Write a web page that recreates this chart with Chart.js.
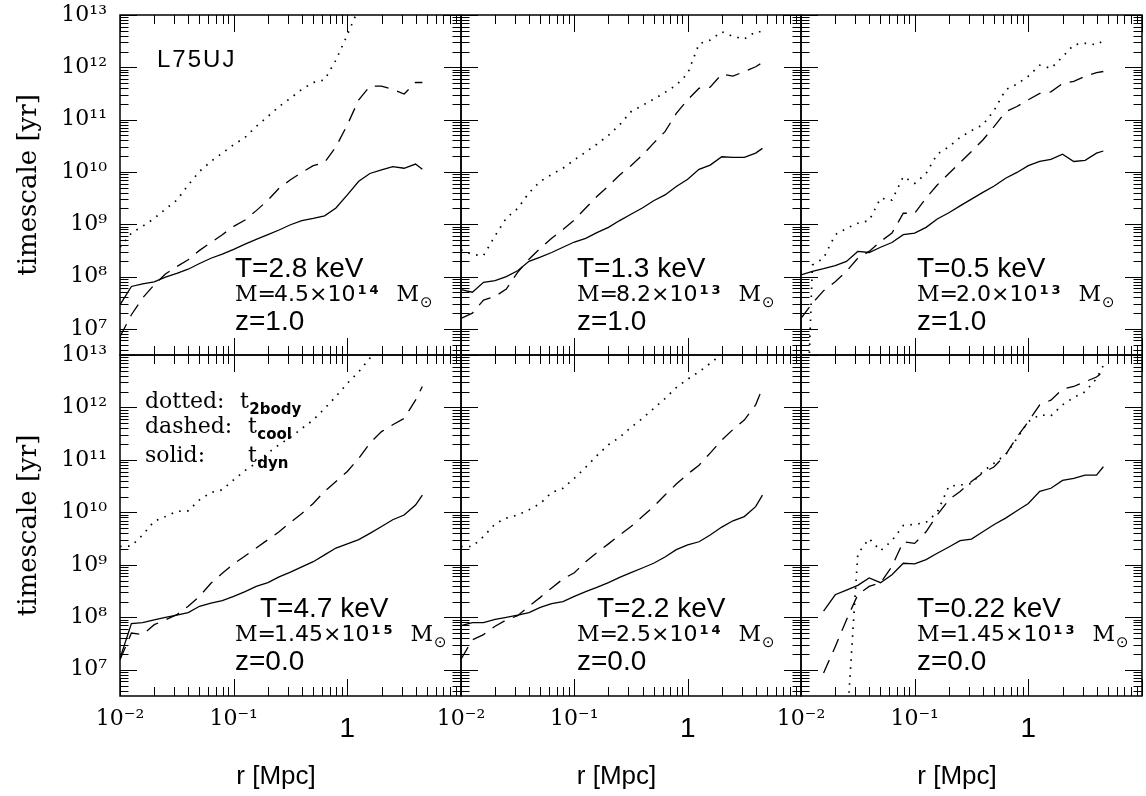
<!DOCTYPE html>
<html>
<head>
<meta charset="utf-8">
<script src="https://cdn.jsdelivr.net/npm/chart.js@4.4.1/dist/chart.umd.min.js"></script>
<style>
  html, body { margin: 0; padding: 0; background: #fff; }
  #wrap { position: relative; width: 1146px; height: 796px; }
  #wrap canvas { position: absolute; left: 0; top: 0; }
</style>
</head>
<body>
<div id="wrap"></div>
<script>
'use strict';

// radial bins, Mpc
const rMpc = [0.0100, 0.0126, 0.0158, 0.0200, 0.0251, 0.0316, 0.0398, 0.0501, 0.0631, 0.0794,
  0.100, 0.126, 0.158, 0.200, 0.251, 0.316, 0.398, 0.501, 0.631, 0.794,
  1.00, 1.26, 1.58, 2.00, 2.51, 3.16, 3.98, 4.57];

// log10(timescale / yr)
// dyn = solid, cool = dashed, body = dotted (two-body)
const dyn1 = [7.46, 7.81, 7.86, 7.90, 7.99, 8.06, 8.14, 8.25, 8.35, 8.43, 8.52, 8.62, 8.71, 8.80, 8.89, 8.99, 9.07, 9.11, 9.16, 9.31, 9.56, 9.82, 9.97, 10.04, 10.10, 10.07, 10.15, 10.05];
const cool1 = [6.85, 7.27, 7.59, 7.84, 8.05, 8.19, 8.32, 8.50, 8.65, 8.80, 8.96, 9.08, 9.26, 9.46, 9.69, 9.85, 9.99, 10.12, 10.18, 10.48, 10.90, 11.38, 11.64, 11.64, 11.58, 11.49, 11.71, 11.71];
const body1 = [8.56, 8.83, 8.96, 9.11, 9.29, 9.46, 9.75, 10.01, 10.20, 10.36, 10.52, 10.66, 10.87, 11.06, 11.25, 11.41, 11.58, 11.71, 11.76, 12.14, 12.62, 13.13, null, null, null, null, null, null];

const dyn2 = [7.75, 7.70, 7.89, 7.92, 8.00, 8.11, 8.29, 8.37, 8.46, 8.56, 8.66, 8.73, 8.84, 8.94, 9.07, 9.19, 9.31, 9.45, 9.56, 9.72, 9.86, 10.05, 10.13, 10.29, 10.28, 10.28, 10.36, 10.45];
const cool2 = [7.20, 7.30, 7.55, 7.62, 7.76, 8.08, 8.33, 8.54, 8.73, 8.90, 9.08, 9.31, 9.53, 9.73, 9.94, 10.12, 10.32, 10.55, 10.77, 11.12, 11.38, 11.60, 11.62, 11.87, 11.83, 11.92, 12.01, 12.09];
const body2 = [8.51, 8.42, 8.40, 8.78, 9.12, 9.30, 9.60, 9.82, 9.95, 10.07, 10.23, 10.38, 10.53, 10.70, 10.90, 11.15, 11.27, 11.39, 11.52, 11.66, 11.88, 12.45, 12.52, 12.68, 12.59, 12.54, 12.68, 12.68];

const dyn3 = [8.03, 8.10, 8.15, 8.21, 8.29, 8.48, 8.46, 8.56, 8.65, 8.80, 8.83, 8.94, 9.10, 9.22, 9.35, 9.48, 9.61, 9.73, 9.88, 9.99, 10.12, 10.20, 10.24, 10.34, 10.20, 10.22, 10.36, 10.40];
const cool3 = [7.20, 7.49, 7.73, 7.90, 8.10, 8.35, 8.48, 8.67, 8.83, 9.21, 9.21, 9.50, 9.75, 9.97, 10.18, 10.39, 10.61, 10.87, 11.15, 11.25, 11.38, 11.50, 11.53, 11.69, 11.73, 11.83, 11.90, 11.92];
const body3 = [1.8, 8.22, 8.35, 8.80, 8.92, 9.02, 9.07, 9.50, 9.46, 9.91, 9.78, 9.97, 10.34, 10.48, 10.66, 10.79, 10.90, 11.18, 11.57, 11.68, 11.83, 12.04, 11.98, 12.20, 12.43, 12.46, 12.43, 12.51];

const dyn4 = [7.22, 7.88, 7.90, 7.95, 8.00, 8.04, 8.09, 8.21, 8.27, 8.32, 8.40, 8.49, 8.59, 8.66, 8.77, 8.86, 8.96, 9.06, 9.19, 9.32, 9.40, 9.48, 9.60, 9.73, 9.86, 9.95, 10.14, 10.33];
const cool4 = [7.19, 7.70, 7.67, 7.86, 7.95, 8.05, 8.21, 8.40, 8.65, 8.84, 9.02, 9.17, 9.32, 9.48, 9.63, 9.81, 9.98, 10.17, 10.40, 10.59, 10.78, 11.03, 11.32, 11.54, 11.67, 11.79, 12.14, 12.40];
const body4 = [9.35, 9.36, 9.57, 9.83, 9.92, 10.02, 10.03, 10.24, 10.38, 10.43, 10.62, 10.80, 10.94, 11.13, 11.29, 11.43, 11.60, 11.76, 11.98, 12.21, 12.46, 12.68, 12.94, 13.19, null, null, null, null];

const dyn5 = [7.84, 7.90, 7.90, 7.96, 8.00, 8.04, 8.09, 8.19, 8.26, 8.30, 8.40, 8.49, 8.57, 8.66, 8.76, 8.85, 8.94, 9.03, 9.15, 9.29, 9.38, 9.44, 9.57, 9.72, 9.84, 9.92, 10.11, 10.33];
const cool5 = [7.20, 7.57, 7.67, 7.83, 7.95, 8.03, 8.21, 8.38, 8.56, 8.73, 8.85, 9.06, 9.23, 9.40, 9.57, 9.73, 9.92, 10.11, 10.33, 10.54, 10.73, 10.90, 11.13, 11.38, 11.58, 11.76, 12.05, 12.37];
const body5 = [9.35, 9.35, 9.54, 9.78, 9.89, 9.95, 10.05, 10.17, 10.38, 10.46, 10.65, 10.86, 11.08, 11.29, 11.43, 11.62, 11.79, 11.98, 12.17, 12.38, 12.54, 12.68, 12.84, 13.02, 13.20, null, null, null];

const dyn6 = [null, null, 8.12, 8.43, 8.52, 8.61, 8.75, 8.66, 8.81, 9.03, 9.02, 9.10, 9.22, 9.34, 9.46, 9.49, 9.63, 9.77, 9.89, 10.03, 10.17, 10.40, 10.46, 10.61, 10.65, 10.71, 10.71, 10.87];
const cool6 = [null, null, 6.94, 7.44, 7.95, 8.43, 8.59, 8.66, 8.97, 9.44, 9.41, 9.63, 9.95, 10.24, 10.40, 10.59, 10.75, 10.87, 11.10, 11.44, 11.73, 12.05, 12.14, 12.35, 12.40, 12.49, 12.58, 12.68];
const body6 = [null, null, null, null, 5.80, 9.21, 9.50, 9.27, 9.46, 9.75, 9.77, 9.81, 10.00, 10.50, 10.52, 10.55, 10.78, 10.94, 11.10, 11.41, 11.73, 11.86, 11.84, 12.05, 12.19, 12.30, 12.55, 12.80];

// panel labels
const temps = ['T=2.8 keV', 'T=1.3 keV', 'T=0.5 keV', 'T=4.7 keV', 'T=2.2 keV', 'T=0.22 keV'];
const massMant = ['4.5', '8.2', '2.0', '1.45', '2.5', '1.45'];
const massExp = ['14', '13', '13', '15', '14', '13'];
const redshifts = ['z=1.0', 'z=1.0', 'z=1.0', 'z=0.0', 'z=0.0', 'z=0.0'];
const legendNames = ['dotted:', 'dashed:', 'solid:'];
const legendSubs = ['2body', 'cool', 'dyn'];

// tick labels
const yTicks = [1e7, 1e8, 1e9, 1e10, 1e11, 1e12, 1e13];
const xTicks = [0.01, 0.1, 1];

const dynSets = [dyn1, dyn2, dyn3, dyn4, dyn5, dyn6];
const coolSets = [cool1, cool2, cool3, cool4, cool5, cool6];
const bodySets = [body1, body2, body3, body4, body5, body6];

// page geometry
const PAGE_W = 1146, PAGE_H = 796;
const colLeft = [120, 461, 801];
const colRight = [461, 801, 1142];
const rowTop = [15, 355];
const rowBottom = [355, 696];
const tDx = [115, 116, 116, 140, 136, 116];
const mDx = [115, 116, 116, 115, 116, 116];

const SERIF = '"DejaVu Serif", serif';
const SANS = '"Liberation Sans", Arial, sans-serif';
const DSANS = '"DejaVu Sans", sans-serif';

const SUP = {'-': '\u207B', '0': '\u2070', '1': '\u00B9', '2': '\u00B2', '3': '\u00B3',
  '4': '\u2074', '5': '\u2075', '6': '\u2076', '7': '\u2077', '8': '\u2078', '9': '\u2079'};

function powLabel(v) {
  const e = Math.round(Math.log10(v));
  if (e === 0) return '1';
  return '10' + String(e).split('').map(c => SUP[c]).join('');
}

function drawRuns(ctx, x, y, parts) {
  for (const p of parts) {
    ctx.font = p.font;
    ctx.letterSpacing = p.ls || '0px';
    x += p.dx || 0;
    ctx.fillText(p.t, x, y + (p.dy || 0));
    x += ctx.measureText(p.t).width;
  }
  ctx.letterSpacing = '0px';
}

// frame with inward major/minor ticks on all four sides
const frameTicks = {
  id: 'frameTicks',
  afterDatasetsDraw(chart) {
    const {ctx, chartArea: a} = chart;
    const xs = chart.scales.x, ys = chart.scales.y;
    ctx.save();
    ctx.strokeStyle = '#000';
    ctx.lineWidth = 1;
    ctx.beginPath();
    for (let e = -2; e <= 1; e++) {
      for (let k = 1; k <= 9; k++) {
        const v = k * Math.pow(10, e);
        if (v < xs.min * 0.999 || v > xs.max * 1.001) continue;
        const px = Math.round(xs.getPixelForValue(v)) + 0.5;
        const len = k === 1 ? 17 : 9;
        ctx.moveTo(px, a.bottom); ctx.lineTo(px, a.bottom - len);
        ctx.moveTo(px, a.top); ctx.lineTo(px, a.top + len);
      }
    }
    for (let e = 6; e <= 13; e++) {
      for (let k = 1; k <= 9; k++) {
        const v = k * Math.pow(10, e);
        if (v < ys.min * 0.999 || v > ys.max * 1.001) continue;
        const py = Math.round(ys.getPixelForValue(v)) + 0.5;
        const len = k === 1 ? 17 : 8.5;
        ctx.moveTo(a.left, py); ctx.lineTo(a.left + len, py);
        ctx.moveTo(a.right, py); ctx.lineTo(a.right - len, py);
      }
    }
    ctx.stroke();
    ctx.lineWidth = 1.5;
    ctx.strokeRect(a.left, a.top, a.right - a.left, a.bottom - a.top);
    ctx.restore();
  }
};

// cluster labels inside each panel
const panelText = {
  id: 'panelText',
  afterDraw(chart, args, opts) {
    const i = opts.idx;
    const {ctx, chartArea: a} = chart;
    ctx.save();
    ctx.fillStyle = '#000';
    ctx.textAlign = 'left';
    ctx.textBaseline = 'alphabetic';

    ctx.font = '28px ' + SANS;
    ctx.fillText(temps[i], a.left + tDx[i], a.top + 262);
    ctx.fillText(redshifts[i], a.left + mDx[i], a.top + 315);

    drawRuns(ctx, a.left + mDx[i], a.top + 285.5, [
      {t: 'M', font: '22px ' + SERIF},
      {t: '=', font: '22px ' + SERIF, dx: 0},
      {t: massMant[i], font: '22px ' + DSANS, dx: -2},
      {t: '\u00D7', font: '22px ' + DSANS, dx: 0},
      {t: '10', font: '22px ' + DSANS},
      {t: massExp[i], font: 'bold 13px ' + DSANS, dx: 2, dy: -7, ls: '3px'},
      {t: 'M', font: '22px ' + SERIF, dx: 15},
      {t: '\u2299', font: '15px ' + DSANS, dx: 1, dy: 6}
    ]);

    if (i === 0) {
      ctx.font = '24px ' + SANS;
      ctx.letterSpacing = '2px';
      ctx.fillText('L75UJ', 157, 67);
      ctx.letterSpacing = '0px';
    }
    if (i === 3) {
      const base = [408, 433, 461.5];
      const tX = [240, 248, 248];
      for (let k = 0; k < 3; k++) {
        ctx.font = '22px ' + SERIF;
        ctx.fillText(legendNames[k], 145, base[k]);
        drawRuns(ctx, tX[k], base[k], [
          {t: 't', font: '22px ' + SERIF},
          {t: legendSubs[k], font: 'bold 15px ' + DSANS, dx: 0.5, dy: 6}
        ]);
      }
    }
    ctx.restore();
  }
};

const wrap = document.getElementById('wrap');

function renderPanel(i) {
  const col = i % 3, row = Math.floor(i / 3);
  const canvas = document.createElement('canvas');
  canvas.width = PAGE_W;
  canvas.height = PAGE_H;
  wrap.appendChild(canvas);

  const yW = col === 0 ? 110 : 0;
  const xH = row === 1 ? 96 : 0;

  const series = [
    {name: 't_dyn', vals: dynSets[i], dash: [], width: 1.3},
    {name: 't_cool', vals: coolSets[i], dash: [14, 9], width: 1.3},
    {name: 't_2body', vals: bodySets[i], dash: [1.6, 6.4], width: 1.7}
  ];

  new Chart(canvas, {
    type: 'scatter',
    data: {
      datasets: series.map(s => ({
        label: s.name,
        data: rMpc.map((r, j) => ({x: r, y: s.vals[j] == null ? null : Math.pow(10, s.vals[j])})),
        showLine: true,
        borderColor: '#000',
        backgroundColor: '#000',
        borderWidth: s.width,
        borderDash: s.dash,
        pointRadius: 0,
        pointHoverRadius: 0,
        clip: 0
      }))
    },
    options: {
      responsive: false,
      animation: false,
      events: [],
      layout: {
        padding: {
          left: colLeft[col] - yW,
          right: PAGE_W - colRight[col],
          top: rowTop[row],
          bottom: PAGE_H - rowBottom[row] - xH
        }
      },
      scales: {
        x: {
          type: 'logarithmic',
          min: 0.01,
          max: 10,
          bounds: 'data',
          grid: {display: false, drawTicks: false},
          border: {display: false},
          afterBuildTicks: s => { s.ticks = xTicks.map(v => ({value: v})); },
          afterFit: s => { s.height = xH; s.paddingLeft = 0; s.paddingRight = 0; },
          ticks: {
            display: row === 1,
            autoSkip: false,
            maxRotation: 0,
            minRotation: 0,
            padding: 11,
            color: '#000',
            callback: v => powLabel(v),
            font: c => (c.tick && c.tick.value === 1)
              ? {family: SANS, size: 28, lineHeight: 1.59}
              : {family: SERIF, size: 22, lineHeight: 1.15}
          },
          title: {
            display: row === 1,
            text: 'r [Mpc]    ',
            color: '#000',
            font: {family: SANS, size: 26, lineHeight: 1.2},
            padding: {top: 0, bottom: 0}
          }
        },
        y: {
          type: 'logarithmic',
          min: Math.pow(10, 6.5),
          max: 1e13,
          bounds: 'data',
          grid: {display: false, drawTicks: false},
          border: {display: false},
          afterBuildTicks: s => { s.ticks = yTicks.map(v => ({value: v})); },
          afterFit: s => { s.width = yW; s.paddingTop = 0; s.paddingBottom = 0; },
          ticks: {
            display: col === 0,
            autoSkip: false,
            padding: 13,
            color: '#000',
            callback: v => powLabel(v),
            font: {family: SERIF, size: 22}
          },
          title: {
            display: col === 0,
            text: 'timescale [yr]',
            color: '#000',
            font: {family: SERIF, size: 26, lineHeight: 1.2},
            padding: {top: 4, bottom: 0}
          }
        }
      },
      plugins: {
        legend: {display: false},
        tooltip: {enabled: false},
        panelText: {idx: i}
      }
    },
    plugins: [frameTicks, panelText]
  });
}

for (let i = 0; i < 6; i++) {
  renderPanel(i);
}
</script>
</body>
</html>
